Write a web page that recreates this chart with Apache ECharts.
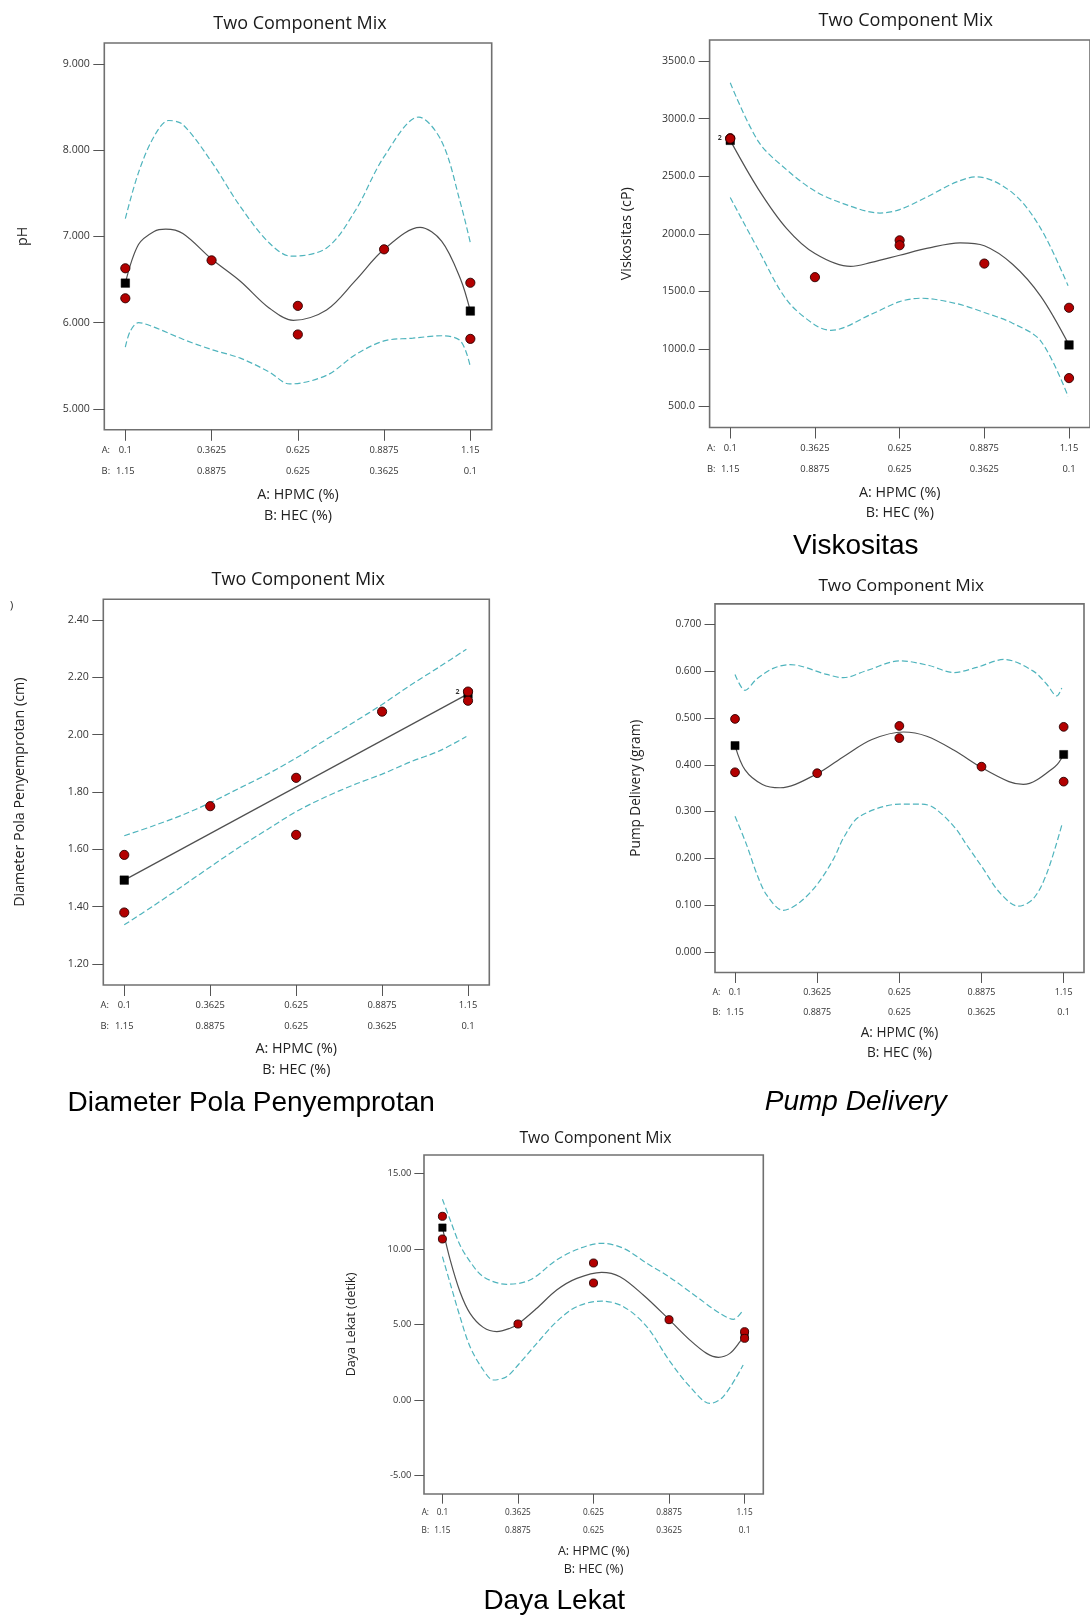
<!DOCTYPE html>
<html><head><meta charset="utf-8">
<script src="https://cdn.jsdelivr.net/npm/echarts@6/dist/echarts.min.js"></script>
<style>html,body{margin:0;padding:0;background:#fff}#c{width:1090px;height:1615px}</style>
</head><body><div id="c"></div>
<script>
// ---------- shared axis data ----------
const X_A = [0.1, 0.3625, 0.625, 0.8875, 1.15];
const X_A_TEXT = ['0.1', '0.3625', '0.625', '0.8875', '1.15'];
const X_B_TEXT = ['1.15', '0.8875', '0.625', '0.3625', '0.1'];
const X_NAME = 'A: HPMC (%)\nB: HEC (%)';
const TITLE = 'Two Component Mix';

// ---------- pH ----------
const PH_TICKS = [5, 6, 7, 8, 9];
const phRed = [[0.1,6.630],[0.1,6.282],[0.3625,6.722],[0.625,6.194],[0.625,5.862],[0.8875,6.850],[1.15,6.462],[1.15,5.811]];
const phMean = [[0.1,6.458],[1.15,6.134]];
const phFit = [[0.1,6.458],[0.14,6.906],[0.1875,7.058],[0.223,7.085],[0.275,7.034],[0.3625,6.738],[0.45,6.48],[0.5375,6.17],[0.611,6.026],[0.7125,6.147],[0.8,6.487],[0.8875,6.850],[0.997,7.105],[1.0625,6.946],[1.12,6.506],[1.15,6.134]];
const phUpper = [[0.1,7.206],[0.14,7.74],[0.1875,8.16],[0.232,8.345],[0.275,8.297],[0.3625,7.865],[0.45,7.346],[0.5375,6.926],[0.605,6.770],[0.7125,6.866],[0.8,7.30],[0.8875,7.925],[0.993,8.385],[1.0625,8.105],[1.12,7.386],[1.15,6.926]];
const phLower = [[0.1,5.715],[0.115,5.90],[0.14,5.999],[0.1875,5.947],[0.275,5.807],[0.3625,5.687],[0.45,5.587],[0.5375,5.428],[0.6,5.288],[0.7125,5.388],[0.8,5.627],[0.8875,5.787],[0.975,5.819],[1.0625,5.847],[1.12,5.787],[1.15,5.487]];

// ---------- Viskositas ----------
const VISC_TICKS = [500, 1000, 1500, 2000, 2500, 3000, 3500];
const viscRed = [[0.1,2830],[0.1,2826],[0.3625,1623],[0.625,1943],[0.625,1900],[0.8875,1741],[1.15,1357],[1.15,746]];
const viscMean = [[0.1,2811],[1.15,1034]];
const viscDup = [[0.1,2830]];
const viscFit = [[0.1,2811],[0.1875,2386],[0.275,2045],[0.3625,1828],[0.473,1716],[0.5375,1751],[0.625,1813],[0.7125,1875],[0.8125,1921],[0.8875,1896],[0.975,1735],[1.0625,1456],[1.15,1034]];
const viscUpper = [[0.1,3311],[0.1875,2800],[0.275,2555],[0.3625,2371],[0.45,2262],[0.564,2180],[0.625,2210],[0.7125,2324],[0.8,2448],[0.863,2495],[0.975,2355],[1.0625,2045],[1.147,1549]];
const viscLower = [[0.1,2315],[0.1875,1859],[0.275,1425],[0.3625,1208],[0.412,1161],[0.5375,1301],[0.625,1410],[0.69,1440],[0.8,1394],[0.8875,1316],[0.975,1223],[1.0625,1068],[1.147,588]];

// ---------- Diameter Pola Penyemprotan ----------
const DIAM_TICKS = [1.2, 1.4, 1.6, 1.8, 2.0, 2.2, 2.4];
const diamRed = [[0.1,1.580],[0.1,1.379],[0.3625,1.750],[0.625,1.849],[0.625,1.650],[0.8875,2.080],[1.15,2.150],[1.15,2.118]];
const diamMean = [[0.1,1.492],[1.15,2.142]];
const diamDup = [[1.15,2.150]];
const diamFit = [[0.1,1.492],[1.15,2.142]];
const diamUpper = [[0.1,1.647],[0.1875,1.681],[0.275,1.718],[0.3625,1.762],[0.45,1.812],[0.5375,1.862],[0.625,1.918],[0.7125,1.980],[0.8,2.042],[0.8875,2.105],[0.975,2.173],[1.0625,2.236],[1.145,2.298]];
const diamLower = [[0.1,1.336],[0.1875,1.401],[0.275,1.469],[0.3625,1.538],[0.45,1.606],[0.5375,1.669],[0.625,1.731],[0.7125,1.781],[0.8,1.824],[0.8875,1.862],[0.975,1.905],[1.0625,1.943],[1.145,1.993]];

// ---------- Pump Delivery ----------
const PUMP_TICKS = [0, 0.1, 0.2, 0.3, 0.4, 0.5, 0.6, 0.7];
const pumpRed = [[0.1,0.498],[0.1,0.384],[0.3625,0.382],[0.625,0.483],[0.625,0.457],[0.8875,0.396],[1.15,0.481],[1.15,0.364]];
const pumpMean = [[0.1,0.441],[1.15,0.422]];
const pumpFit = [[0.1,0.441],[0.132,0.389],[0.1875,0.358],[0.244,0.351],[0.3625,0.381],[0.45,0.419],[0.5375,0.454],[0.638,0.470],[0.7125,0.461],[0.8,0.431],[0.8875,0.394],[0.975,0.364],[1.021,0.358],[1.122,0.396],[1.15,0.422]];
const pumpUpper = [[0.1,0.593],[0.132,0.559],[0.169,0.583],[0.222,0.606],[0.276,0.614],[0.393,0.593],[0.446,0.586],[0.52,0.601],[0.627,0.622],[0.72,0.612],[0.798,0.597],[0.872,0.608],[0.96,0.625],[1.053,0.600],[1.096,0.572],[1.128,0.547],[1.144,0.564]];
const pumpLower = [[0.1,0.290],[0.137,0.229],[0.169,0.168],[0.201,0.122],[0.254,0.089],[0.308,0.107],[0.363,0.145],[0.414,0.198],[0.450,0.248],[0.499,0.290],[0.627,0.316],[0.691,0.316],[0.734,0.309],[0.801,0.267],[0.840,0.229],[0.888,0.183],[0.947,0.126],[1.005,0.098],[1.053,0.114],[1.096,0.168],[1.144,0.271]];

// ---------- Daya Lekat ----------
const DAYA_TICKS = [-5, 0, 5, 10, 15];
const dayaRed = [[0.1,12.155],[0.1,10.656],[0.3625,5.033],[0.625,9.068],[0.625,7.745],[0.8875,5.320],[1.15,4.526],[1.15,4.085]];
const dayaMean = [[0.1,11.406],[1.15,4.31]];
const dayaFit = [[0.1,11.41],[0.127,9.27],[0.161,7.17],[0.196,5.74],[0.242,4.81],[0.289,4.53],[0.335,4.75],[0.363,5.03],[0.428,6.07],[0.497,7.28],[0.567,8.05],[0.653,8.45],[0.717,8.16],[0.798,6.95],[0.887,5.34],[0.960,3.97],[1.018,3.09],[1.059,2.83],[1.099,3.09],[1.134,3.86],[1.15,4.31]];
const dayaUpper = [[0.1,13.28],[0.127,11.91],[0.161,10.26],[0.196,9.16],[0.242,8.16],[0.323,7.66],[0.404,7.94],[0.497,9.27],[0.578,10.04],[0.653,10.37],[0.729,10.04],[0.810,9.05],[0.887,8.16],[0.983,6.84],[1.064,5.74],[1.111,5.34],[1.145,5.96]];
const dayaLower = [[0.1,9.49],[0.127,7.72],[0.161,5.52],[0.196,3.53],[0.242,1.99],[0.277,1.33],[0.323,1.55],[0.363,2.32],[0.428,3.75],[0.497,5.19],[0.567,6.18],[0.653,6.55],[0.729,6.18],[0.810,4.86],[0.887,2.65],[0.960,0.89],[1.030,-0.22],[1.076,0.23],[1.145,2.32]];

// ---------- layout / style (not data) ----------
const FONT = '"Open Sans", sans-serif';
const CAP_FONT = '"Liberation Sans", Arial, sans-serif';
const XMIN = 0.036, XMAX = 1.215;
const SMOOTH = 0.33;
const C_RED = '#b30000', C_FIT = '#505050', C_CI = '#4fb4bd', C_BOX = '#707070', C_TXT = '#333';

const charts = [
  {left:104.3, top:43, width:387.4, height:386.8, ymin:4.756, ymax:9.244, ticks:PH_TICKS, dec:3, s:1,
   yName:'pH', yNameGap:74, tX:300, tY:24.1, tFs:18, xNameGap:54.8, xNameLh:20.6, xLabM:9.45, xLabLh:21.7, aY:450.1, bY:471.8,
   red:phRed, mean:phMean, fit:phFit, up:phUpper, lo:phLower, dup:null},
  {left:709.6, top:40, width:388.5, height:387.5, ymin:317, ymax:3683, ticks:VISC_TICKS, dec:1, s:1,
   yName:'Viskositas (cP)', yNameGap:76, tX:905.8, tY:20.7, tFs:18.1, xNameGap:55.2, xNameLh:20.3, xLabM:10, xLabLh:21.4, aY:448.2, bY:469.6,
   red:viscRed, mean:viscMean, fit:viscFit, up:viscUpper, lo:viscLower, dup:viscDup},
  {left:103.3, top:599.3, width:386, height:385.7, ymin:1.126, ymax:2.472, ticks:DIAM_TICKS, dec:2, s:1,
   yName:'Diameter Pola Penyemprotan (cm)', yNameGap:76.5, tX:298.3, tY:579.6, tFs:18, xNameGap:54, xNameLh:20.7, xLabM:10.1, xLabLh:21.1, aY:1005.7, bY:1026.8,
   red:diamRed, mean:diamMean, fit:diamFit, up:diamUpper, lo:diamLower, dup:diamDup},
  {left:715, top:603.9, width:369, height:368.6, ymin:-0.0436, ymax:0.7436, ticks:PUMP_TICKS, dec:3, s:0.953,
   yName:'Pump Delivery (gram)', yNameGap:72, tX:901.2, tY:586.1, tFs:17.2, xNameGap:51.3, xNameLh:19.6, xLabM:9.6, xLabLh:20, aY:992.1, bY:1012.1,
   red:pumpRed, mean:pumpMean, fit:pumpFit, up:pumpUpper, lo:pumpLower, dup:null},
  {left:424, top:1155, width:339.3, height:339, ymin:-6.21, ymax:16.21, ticks:DAYA_TICKS, dec:2, s:0.877,
   yName:'Daya Lekat (detik)', yNameGap:66.5, tX:595.5, tY:1138.3, tFs:15.8, xNameGap:48, xNameLh:18, xLabM:8.95, xLabLh:18.7, aY:1512.3, bY:1531,
   red:dayaRed, mean:dayaMean, fit:dayaFit, up:dayaUpper, lo:dayaLower, dup:null}
];

const captions = [
  {text:'Viskositas', x:855.8, y:546.4, style:'normal'},
  {text:'Diameter Pola Penyemprotan', x:251.2, y:1102.9, style:'normal'},
  {text:'Pump Delivery', x:855.8, y:1102.1, style:'italic'},
  {text:'Daya Lekat', x:554.2, y:1601.7, style:'normal'}
];

const grid = [], xAxis = [], yAxis = [], series = [], graphic = [];

function txt(text, x, y, size, opts) {
  opts = opts || {};
  return {type:'text', x:x, y:y, silent:true, style:{text:text, fill:opts.fill || '#222',
    font:(opts.style || 'normal') + ' ' + (opts.weight || 'normal') + ' ' + size + 'px ' + (opts.family || FONT),
    textAlign:opts.align || 'center', textVerticalAlign:'middle', align:opts.align || 'center', verticalAlign:'middle'}};
}

charts.forEach((c, i) => {
  const s = c.s;
  grid.push({left:c.left, top:c.top, width:c.width, height:c.height, show:true, borderColor:C_BOX, borderWidth:1.6, backgroundColor:'transparent'});
  xAxis.push({
    type:'value', gridIndex:i, min:XMIN, max:XMAX, position:'bottom',
    axisLine:{show:false, onZero:false}, splitLine:{show:false},
    axisTick:{show:true, customValues:X_A, length:11*s, lineStyle:{color:'#555', width:1}},
    axisLabel:{customValues:X_A, margin:c.xLabM, lineHeight:c.xLabLh, fontSize:9.4*s, color:C_TXT, fontFamily:FONT,
      formatter:(v) => { const k = X_A.findIndex(a => Math.abs(a - v) < 1e-6); return k < 0 ? '' : X_A_TEXT[k] + '\n' + X_B_TEXT[k]; }},
    name:X_NAME, nameLocation:'middle', nameGap:c.xNameGap,
    nameTextStyle:{fontSize:14.3*s, lineHeight:c.xNameLh, color:'#222', fontFamily:FONT}
  });
  yAxis.push({
    type:'value', gridIndex:i, min:c.ymin, max:c.ymax, position:'left',
    axisLine:{show:false, onZero:false}, splitLine:{show:false},
    axisTick:{show:true, customValues:c.ticks, length:11*s, lineStyle:{color:'#555', width:1}},
    axisLabel:{customValues:c.ticks, margin:14.5*s, fontSize:10.6*s, color:C_TXT, fontFamily:FONT,
      formatter:(v) => Number(v).toFixed(c.dec)},
    name:c.yName, nameLocation:'middle', nameRotate:90, nameGap:c.yNameGap,
    nameTextStyle:{fontSize:14.3*s, color:'#222', fontFamily:FONT}
  });
  const dash = {color:C_CI, width:1.2, type:[6, 3]};
  series.push({type:'line', xAxisIndex:i, yAxisIndex:i, data:c.up, smooth:SMOOTH, showSymbol:false, silent:true, lineStyle:dash, z:2});
  series.push({type:'line', xAxisIndex:i, yAxisIndex:i, data:c.lo, smooth:SMOOTH, showSymbol:false, silent:true, lineStyle:dash, z:2});
  series.push({type:'line', xAxisIndex:i, yAxisIndex:i, data:c.fit, smooth:SMOOTH, showSymbol:false, silent:true, lineStyle:{color:C_FIT, width:1.2}, z:3});
  series.push({type:'scatter', xAxisIndex:i, yAxisIndex:i, data:c.mean, symbol:'rect', symbolSize:8.5*s, silent:true,
    itemStyle:{color:'#000', borderColor:'#000', borderWidth:0.5, opacity:1}, z:4});
  series.push({type:'scatter', xAxisIndex:i, yAxisIndex:i, data:c.red, symbol:'circle', symbolSize:9.2*s, silent:true,
    itemStyle:{color:C_RED, borderColor:'#2a0000', borderWidth:0.9, opacity:1}, z:5});
  if (c.dup) {
    series.push({type:'scatter', xAxisIndex:i, yAxisIndex:i, data:c.dup, symbol:'circle', symbolSize:1, silent:true,
      itemStyle:{color:'rgba(0,0,0,0)'}, z:6,
      label:{show:true, formatter:'2', position:'left', distance:8, fontSize:7, fontWeight:'bold', color:'#000', fontFamily:FONT}});
  }
  graphic.push(txt(TITLE, c.tX, c.tY, c.tFs, {fill:'#1a1a1a'}));
  const firstTick = c.left + (X_A[0] - XMIN) / (XMAX - XMIN) * c.width;
  graphic.push(txt('A:', firstTick - 19.5 * s, c.aY, 9.4 * s, {fill:C_TXT}));
  graphic.push(txt('B:', firstTick - 19.5 * s, c.bY, 9.4 * s, {fill:C_TXT}));
});

captions.forEach(cp => graphic.push(txt(cp.text, cp.x, cp.y, 28, {family:CAP_FONT, style:cp.style, fill:'#000'})));
graphic.push(txt(')', 11.7, 605.7, 11, {fill:'#222'}));

const chart = echarts.init(document.getElementById('c'), null, {renderer:'canvas'});
chart.setOption({
  animation:false, backgroundColor:'#fff',
  grid:grid, xAxis:xAxis, yAxis:yAxis, series:series, graphic:graphic
});
</script></body></html>
